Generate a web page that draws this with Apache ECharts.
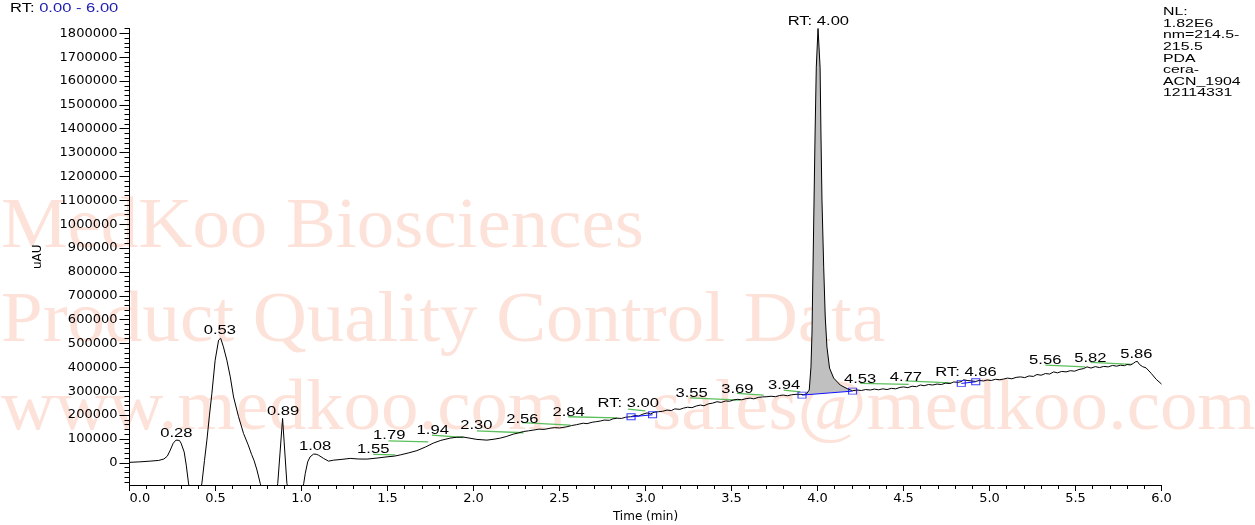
<!DOCTYPE html>
<html>
<head>
<meta charset="utf-8">
<script src="https://cdn.jsdelivr.net/npm/echarts@6/dist/echarts.min.js"></script>
<style>
html,body{margin:0;padding:0;background:#fff;}
#chart{width:1255px;height:525px;}
</style>
</head>
<body>
<div id="chart"></div>
<script>
// ---- data ----
const trace = [
[0.00,2000],[0.06,4000],[0.12,7000],[0.17,10000],[0.20,16000],[0.22,28000],[0.237,53000],[0.254,82000],[0.27,95000],[0.28,98000],[0.29,94000],[0.30,82000],[0.318,45000],[0.33,-10000],[0.343,-85000],[0.36,-160000],
[0.40,-170000],[0.421,-85000],[0.436,10000],[0.45,95000],[0.465,200000],[0.479,291000],[0.498,430000],[0.518,514000],[0.53,522000],[0.546,486000],[0.566,430000],[0.586,360000],[0.605,276000],[0.634,193000],[0.663,123000],[0.69,75000],[0.71,35000],[0.725,8000],[0.741,-30000],[0.76,-86000],[0.79,-160000],
[0.84,-160000],[0.862,-86000],[0.89,186000],[0.915,-86000],[0.94,-160000],
[0.99,-160000],[1.013,-86000],[1.022,-44000],[1.036,4000],[1.05,25000],[1.07,36500],[1.085,36000],[1.099,32000],[1.128,18500],[1.157,7000],[1.186,11000],[1.23,14000],[1.283,18500],[1.33,16000],[1.38,15500],[1.44,20000],[1.497,25000],[1.54,28000],[1.574,33000],[1.62,41000],[1.671,51000],[1.72,66000],[1.766,82500],[1.81,94000],[1.865,103500],[1.90,107000],[1.94,108000],[1.98,103000],[2.02,98000],[2.05,96500],[2.078,95000],[2.12,99000],[2.156,103500],[2.19,110000],[2.231,120000],[2.26,125000],[2.29,131000],[2.32,134000],[2.347,137000],[2.38,141000],[2.41,140000],[2.446,145000],[2.47,147500],[2.50,146000],[2.543,151000],[2.57,156000],[2.60,160000],[2.638,166000],[2.66,164000],[2.69,170000],[2.71,172000],[2.737,175000],[2.76,179000],[2.79,178000],[2.81,184000],[2.834,187000],[2.86,186000],[2.885,191000],[2.912,193000],[2.94,198000],[2.96,196000],[2.985,204000],[3.009,209000],[3.03,205000],[3.05,212000],[3.075,214000],[3.10,216000],[3.125,221000],[3.15,219000],[3.17,226000],[3.20,224000],[3.22,229000],[3.245,233000],[3.27,231000],[3.295,238000],[3.319,242000],[3.34,239000],[3.365,247000],[3.39,250000],[3.416,256000],[3.44,253000],[3.465,259000],[3.49,258000],[3.51,263000],[3.535,266000],[3.56,264000],[3.585,269000],[3.609,271000],[3.63,268000],[3.655,274000],[3.68,276000],[3.706,277000],[3.73,279000],[3.755,277000],[3.78,282000],[3.80,284000],[3.825,281000],[3.85,285000],[3.875,287000],[3.899,287000],[3.92,286000],[3.935,288000],
[3.952,305000],[3.962,401000],[3.968,544000],[3.977,963000],[3.986,1382000],[3.993,1658000],[4.003,1820000],[4.015,1658000],[4.02,1382000],[4.026,1101000],[4.036,820000],[4.045,611000],[4.055,485000],[4.07,397000],[4.094,355000],[4.132,326000],[4.172,311000],[4.204,302000],
[4.23,305000],[4.255,303000],[4.28,307000],[4.307,305000],[4.33,309000],[4.355,306000],[4.38,310000],[4.404,307000],[4.43,312000],[4.455,310000],[4.48,316000],[4.501,318000],[4.525,315000],[4.55,321000],[4.575,319000],[4.598,326000],[4.62,323000],[4.645,328000],[4.67,326000],[4.695,330000],[4.72,328000],[4.745,334000],[4.77,332000],[4.792,339000],[4.815,337000],[4.835,340000],[4.85,348000],[4.87,345000],[4.895,343000],[4.92,341000],[4.94,345000],[4.965,343000],[4.986,347000],[5.01,345000],[5.035,350000],[5.06,348000],[5.082,351000],[5.105,355000],[5.13,352000],[5.155,358000],[5.18,360000],[5.205,357000],[5.23,364000],[5.255,362000],[5.276,370000],[5.30,367000],[5.325,374000],[5.35,372000],[5.373,381000],[5.395,377000],[5.42,383000],[5.445,381000],[5.47,386000],[5.495,384000],[5.52,391000],[5.548,395000],[5.567,402000],[5.59,397000],[5.615,403000],[5.64,399000],[5.664,404000],[5.69,402000],[5.715,408000],[5.74,405000],[5.761,409000],[5.785,407000],[5.80,412000],[5.819,410000],[5.835,416000],[5.848,423000],[5.86,425000],[5.872,412000],[5.89,403000],[5.91,398000],[5.92,393000],[5.94,375000],[5.969,350000],[6.0,330000]
];

const labelTexts  = ['0.28','0.53','0.89','1.08','1.55','1.79','1.94','2.30','2.56','2.84','RT: 3.00','3.55','3.69','3.94','RT: 4.00','4.53','4.77','RT: 4.86','5.56','5.82','5.86'];
const labelTimes  = [0.272,0.525,0.893,1.079,1.417,1.51,1.763,2.017,2.284,2.553,2.90,3.268,3.534,3.806,4.005,4.248,4.514,4.863,5.324,5.586,5.854];
const labelValues = [123200,555300,214600,65800,53200,114000,135800,154600,182300,210400,246900,290900,308000,322300,1849900,350000,357100,379300,427100,438000,451400];

// green peak baselines: [t1, v1, t2, v2]
const greenSegments = [
[1.417,35200,1.545,33000],[1.506,92200,1.737,88000],[1.758,116000,1.942,106000],[2.02,134000,2.291,126000],
[2.282,168000,2.563,158000],[2.551,193000,2.834,188600],[2.898,225000,2.999,218000],[3.26,272000,3.551,263000],
[3.532,291000,3.687,284000],[3.803,305000,3.90,297600],[4.249,333000,4.53,328600],[4.511,343700,4.773,335300],
[5.325,409500,5.557,402300],[5.587,420800,5.829,412400]
];
// blue integration baselines: [t1, v1, t2, v2]
const baselineSegments = [[2.916,192800,3.041,201200],[3.91,283700,4.204,300500],[4.836,332800,4.92,339500]];
const filledPeak = 1; // index into baselineSegments of the shaded peak (RT 4.00)

const xTickLabels = ['0.0','0.5','1.0','1.5','2.0','2.5','3.0','3.5','4.0','4.5','5.0','5.5','6.0'];
const yTickValues = [0,100000,200000,300000,400000,500000,600000,700000,800000,900000,1000000,1100000,1200000,1300000,1400000,1500000,1600000,1700000,1800000];
const yMin = -93000, yMax = 1820000;
const infoLines = ['NL:','1.82E6','nm=214.5-','215.5','PDA','cera-','ACN_1904','12114331'];

// ---- chart ----
const yMinor = [];
for (let v = -80000; v <= 1820000; v += 20000) yMinor.push(v);

const chart = echarts.init(document.getElementById('chart'), null, {renderer:'canvas'});
const black = '#000';
const sansW = 'Liberation Sans, Arial, sans-serif';
const SX = 1.38;

const series = [];

// shaded main peak
const fb = baselineSegments[filledPeak];
series.push({
  type:'custom', name:'fill', z:1, silent:true,
  data:[[fb[0], fb[1]]],
  renderItem:(params, api) => {
    const pts = [api.coord([fb[0], fb[1]])];
    trace.forEach(d => { if (d[0] > fb[0] && d[0] < fb[2]) pts.push(api.coord(d)); });
    pts.push(api.coord([fb[2], fb[3]]));
    return {type:'polygon', shape:{points:pts}, style:{fill:'#c0c0c0', stroke:null}};
  }
});

// trace
series.push({
  type:'line', name:'trace', data:trace, showSymbol:false, symbol:'none', z:3,
  lineStyle:{color:black, width:1}, clip:true, animation:false
});

greenSegments.forEach(s => series.push({
  type:'line', data:[[s[0],s[1]],[s[2],s[3]]], symbol:'none', z:2,
  lineStyle:{color:'#5cbf5c', width:1.3}, animation:false
}));

baselineSegments.forEach(s => series.push({
  type:'line', data:[[s[0],s[1]],[s[2],s[3]]], symbol:'none', z:4,
  lineStyle:{color:'#1010ff', width:1}, animation:false
}));

const squares = [];
baselineSegments.forEach(s => { squares.push([s[0],s[1]]); squares.push([s[2],s[3]]); });
series.push({
  type:'scatter', data:squares, symbol:'rect', symbolSize:[8,6], z:5,
  itemStyle:{color:'rgba(0,0,0,0)', borderColor:'#1010ff', borderWidth:1}, animation:false
});

// peak labels
series.push({
  type:'custom', name:'labels', z:6, clip:false, silent:true,
  data:labelTimes.map((t,i) => [t, labelValues[i]]),
  renderItem:(params, api) => {
    const p = api.coord([api.value(0), api.value(1)]);
    return {type:'text', x:p[0], y:p[1], scaleX:SX, scaleY:1,
      style:{text:labelTexts[params.dataIndex], fill:black, fontSize:12, fontFamily:sansW, align:'center', verticalAlign:'middle'}};
  }
});

const wm = '#fde2d9';
const wmFont = 'Liberation Serif, Times New Roman, serif';
const infoGraphics = infoLines.map((line, i) => ({
  type:'text', x:1163, y:12 + i * 11.6, scaleX:SX,
  style:{text:line, fill:black, fontSize:11.5, fontFamily:sansW, verticalAlign:'middle'}
}));
const option = {
  animation:false,
  backgroundColor:'#fff',
  grid:{left:129.5, right:93.5, top:28.5, bottom:40, containLabel:false, outerBoundsMode:'none'},
  xAxis:{
    type:'value', min:0, max:6, interval:0.5,
    name:'Time (min)', nameLocation:'middle', nameGap:26,
    nameTextStyle:{color:black, fontSize:12, fontFamily:'DejaVu Sans'},
    axisLine:{show:true, onZero:false, lineStyle:{color:black, width:1}},
    axisTick:{show:true, length:6, lineStyle:{color:black}},
    minorTick:{show:true, splitNumber:5, length:4, lineStyle:{color:black}},
    axisLabel:{color:black, fontSize:13, fontFamily:'DejaVu Sans', margin:7, alignMinLabel:'left',
      formatter:(v) => xTickLabels[Math.round(v*2)]},
    splitLine:{show:false}, minorSplitLine:{show:false}
  },
  yAxis:[{
    type:'value', min:yMin, max:yMax,
    name:'uAU', nameLocation:'middle', nameGap:86, nameRotate:90,
    nameTextStyle:{color:black, fontSize:12, fontFamily:'DejaVu Sans'},
    axisLine:{show:true, onZero:false, lineStyle:{color:black, width:1}},
    axisTick:{show:true, length:10, customValues:yTickValues, lineStyle:{color:black}},
    axisLabel:{color:black, fontSize:13, fontFamily:'DejaVu Sans', margin:12, customValues:yTickValues,
      formatter:(v) => String(v)},
    splitLine:{show:false}
  },{
    type:'value', min:yMin, max:yMax, position:'left',
    axisLine:{show:false},
    axisTick:{show:true, length:5, customValues:yMinor, lineStyle:{color:black}},
    axisLabel:{show:false, customValues:yMinor},
    splitLine:{show:false}
  }],
  graphic:[
    {type:'text', x:1, y:228, z:-10, scaleX:1.055, style:{text:'MedKoo Biosciences', fill:wm, fontSize:71, fontFamily:wmFont, verticalAlign:'middle'}},
    {type:'text', x:1, y:322, z:-10, scaleX:1.055, style:{text:'Product Quality Control Data', fill:wm, fontSize:71, fontFamily:wmFont, verticalAlign:'middle'}},
    {type:'text', x:1, y:410, z:-10, scaleX:1.055, style:{text:'www.medkoo.com', fill:wm, fontSize:71, fontFamily:wmFont, verticalAlign:'middle'}},
    {type:'text', x:652, y:410, z:-10, scaleX:1.055, style:{text:'sales@medkoo.com', fill:wm, fontSize:71, fontFamily:wmFont, verticalAlign:'middle'}},
    {type:'text', x:10, y:9, scaleX:SX, style:{text:'{a|RT: }{b|0.00 - 6.00}', verticalAlign:'middle',
      rich:{a:{fill:black, fontSize:12, fontFamily:sansW}, b:{fill:'#2020b0', fontSize:12, fontFamily:sansW}}}}
  ].concat(infoGraphics),
  series:series
};
series.forEach(s => { if (s.yAxisIndex === undefined) s.yAxisIndex = 0; });
chart.setOption(option);
</script>
</body>
</html>
